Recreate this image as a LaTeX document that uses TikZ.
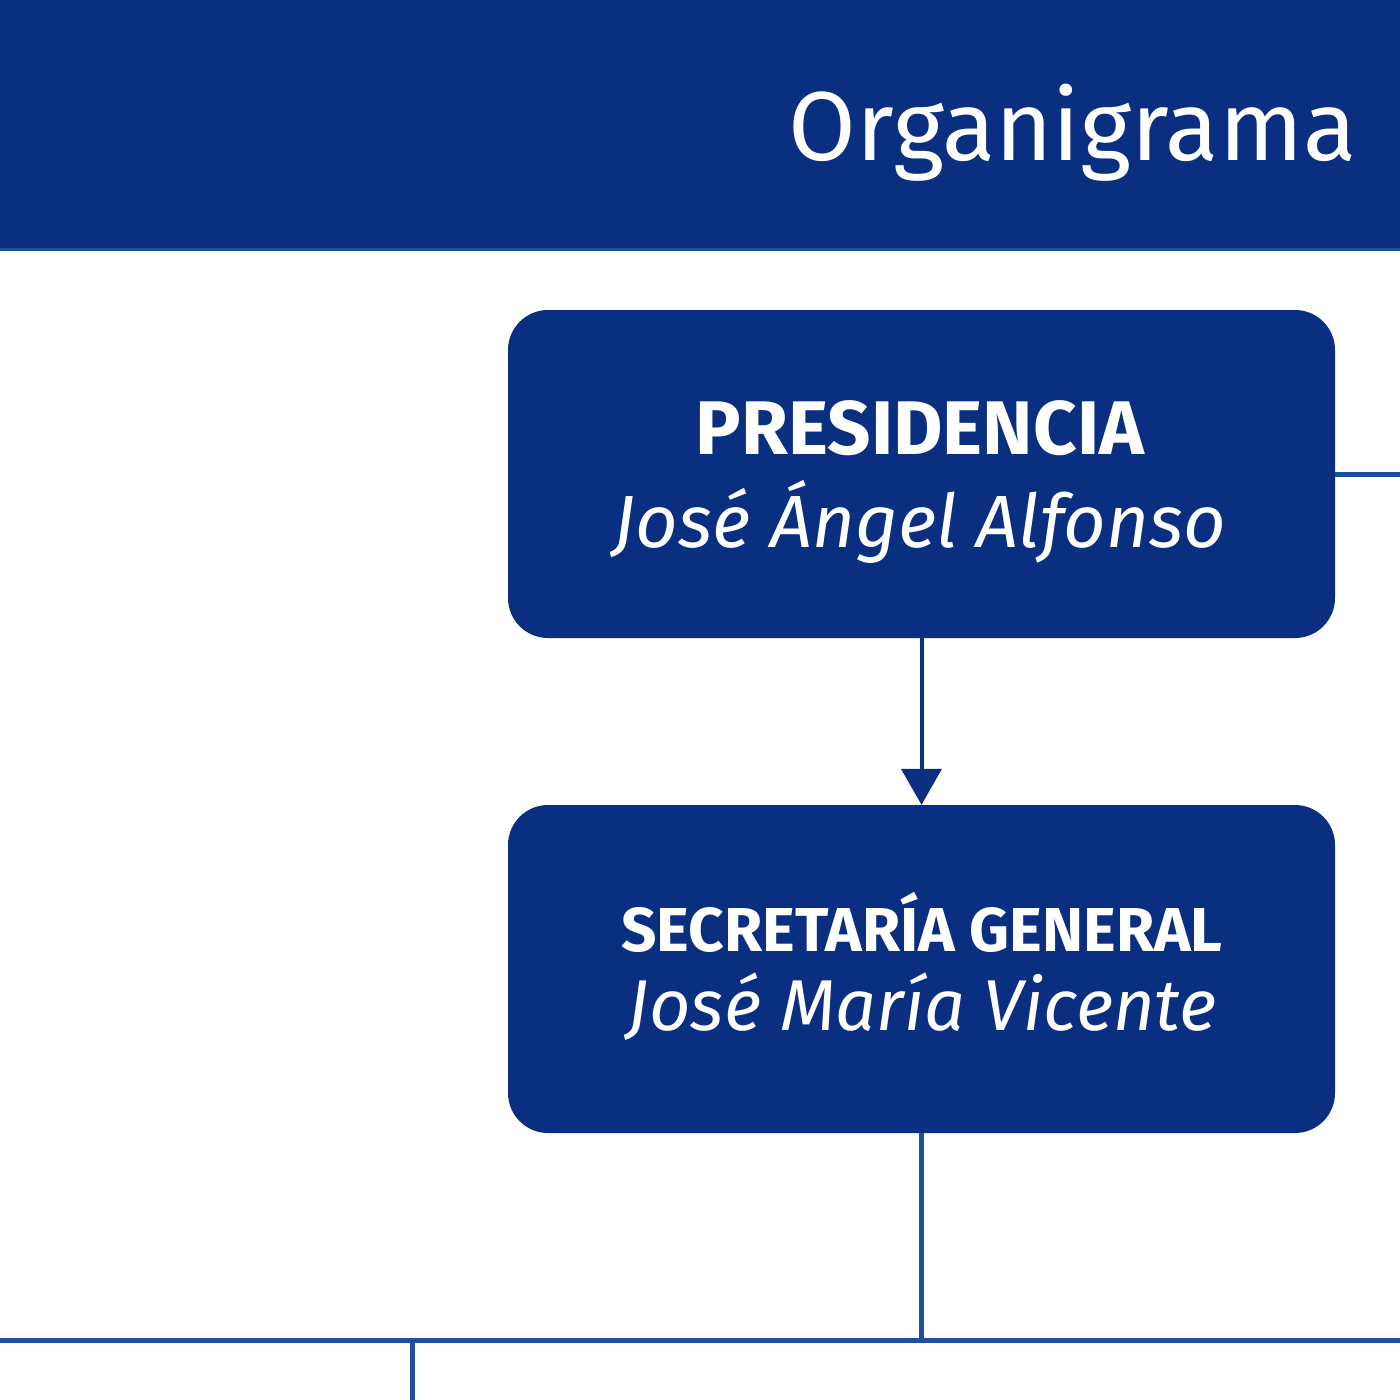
\documentclass[tikz,border=0pt]{standalone}
\usepackage{fontspec}
\setmainfont{Fira Sans}
\usetikzlibrary{arrows.meta}
\definecolor{navy}{HTML}{0A2F80}
\definecolor{lineblue}{HTML}{1E4E9E}
\tikzset{
  orgbox/.style={fill=navy, rounded corners=40pt, minimum width=827pt, minimum height=328pt, inner sep=0pt},
  conn/.style={draw=lineblue, line width=5pt},
}
\begin{document}
\begin{tikzpicture}[x=1pt,y=-1pt]
\useasboundingbox (0,0) rectangle (1400,1400);
\fill[white] (0,0) rectangle (1400,1400);
\fill[navy] (0,0) rectangle (1400,248);
\draw[lineblue, line width=3pt] (0,249) -- (1400,249);
\node[anchor=base east, text=white, font=\fontsize{98}{110}\selectfont] (title) at (1360,160) {Organigrama};
\node[orgbox] (pres) at (921.5,474) {};
\node[text=white, font=\fontsize{76}{80}\selectfont\bfseries] (presT) at (920,428) {PRESIDENCIA};
\node[text=white, font=\fontsize{74}{80}\selectfont\itshape] (presN) at (920,522) {José Ángel Alfonso};
\node[orgbox] (sec) at (921.5,969) {};
\node[text=white, font=\fontsize{62}{70}\selectfont\bfseries] (secT) at (922,922) {SECRETARÍA GENERAL};
\node[text=white, font=\fontsize{72}{80}\selectfont\itshape] (secN) at (922,1007) {José María Vicente};
\coordinate (r) at (1400,474);
\coordinate (j) at (921.5,1340);
\coordinate (l) at (0,1340);
\coordinate (rr) at (1400,1340);
\coordinate (b1) at (412,1340);
\coordinate (b2) at (412,1400);
\draw[conn] (pres.east) -- (r);
\draw[draw=navy, line width=4pt, -{Triangle[length=36pt,width=40pt]}] (pres.south) -- (sec.north);
\draw[conn] (sec.south) -- (j);
\draw[conn] (l) -- (rr);
\draw[conn] (b1) -- (b2);
\end{tikzpicture}
\end{document}
